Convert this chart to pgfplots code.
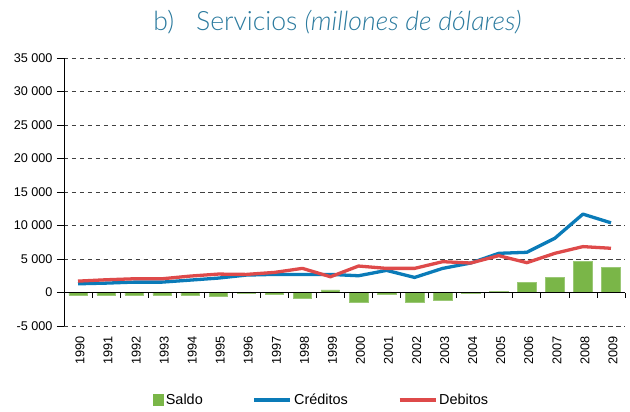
\documentclass[border=0pt]{standalone}
\usepackage{pgfplots}
\pgfplotsset{compat=1.18}
\usepackage{fontspec}
\setmainfont{Liberation Sans}
\newfontfamily\titlefont{Lato Light}
\definecolor{cgreen}{HTML}{7AB648}
\definecolor{cblue}{HTML}{0A7BB8}
\definecolor{cred}{HTML}{DE4A4A}
\definecolor{ctitle}{HTML}{2B7A9E}
\begin{document}
\begin{tikzpicture}
\useasboundingbox (-64bp,-86bp) rectangle (566bp,326bp);
\begin{axis}[
  scale only axis,
  width=561bp, height=268bp,
  at={(0,0)}, anchor=south west,
  xmin=-0.5, xmax=19.5,
  ymin=-5000, ymax=35000,
  axis x line*=bottom,
  axis y line*=left,
  x axis line style={draw=none},
  scaled y ticks=false,
  ytick={-5000,0,5000,10000,15000,20000,25000,30000,35000},
  yticklabels={-5 000,0,5 000,10 000,15 000,20 000,25 000,30 000,35 000},
  xtick={0,...,19},
  xticklabels={1990,1991,1992,1993,1994,1995,1996,1997,1998,1999,2000,2001,2002,2003,2004,2005,2006,2007,2008,2009},
  x tick style={draw=none},
  xticklabel style={rotate=90, anchor=east, font=\fontsize{12.8}{14}\selectfont, yshift=-2bp},
  ymajorgrids,
  grid style={dashed, black!75, line width=0.7pt, dash pattern=on 4.5bp off 3.5bp},
  y tick style={black, line width=0.8pt},
  tick align=outside,
  major tick length=7bp,
  y axis line style={line width=0.8pt},
  yticklabel style={font=\fontsize{12.7}{14}\selectfont, xshift=-1bp},
  clip=false,
  legend style={at={(0.459,-0.276)}, anchor=center, draw=none, legend columns=-1,
    font=\fontsize{14.5}{16}\selectfont, /tikz/every even column/.append style={column sep=48bp}},
  legend image code/.code={\draw[#1] (0bp,0bp) -- (36bp,0bp);},
]
\addplot[ybar, bar width=0.66, fill=cgreen, draw=cgreen!75!white, line width=0.5pt,
  legend image code/.code={\fill[cgreen] (-4bp,-5.5bp) rectangle (6.5bp,5.5bp);}]
 coordinates {(0,-400) (1,-400) (2,-400) (3,-400) (4,-400) (5,-600) (6,-50) (7,-300) (8,-800) (9,400)
 (10,-1500) (11,-300) (12,-1500) (13,-1100) (14,-100) (15,200) (16,1550) (17,2250) (18,4700) (19,3800)};
\addlegendentry{Saldo}
\addplot[cblue, line width=3.3pt, line join=round]
 coordinates {(0,1300) (1,1400) (2,1550) (3,1550) (4,1850) (5,2150) (6,2600) (7,2700) (8,2700) (9,2700)
 (10,2500) (11,3300) (12,2250) (13,3600) (14,4400) (15,5850) (16,6000) (17,8100) (18,11700) (19,10400)};
\addlegendentry{Créditos}
\addplot[cred, line width=3.3pt, line join=round]
 coordinates {(0,1700) (1,1900) (2,2050) (3,2050) (4,2450) (5,2750) (6,2700) (7,3000) (8,3600) (9,2350)
 (10,3950) (11,3600) (12,3600) (13,4600) (14,4400) (15,5500) (16,4450) (17,5850) (18,6850) (19,6600)};
\addlegendentry{Debitos}
\draw[black, line width=0.8pt] (axis cs:-0.5,0) -- (axis cs:19.5,0);
\pgfplotsinvokeforeach{-0.5,0.5,...,19.5}{\draw[black, line width=0.8pt] (axis cs:#1,0) -- (axis cs:#1,-750);}
\end{axis}
\node[text=ctitle, font=\titlefont\fontsize{26.7}{30}\selectfont] at (273.5bp,304bp) {b)\hspace{22bp}Servicios \textit{(millones de dólares)}};
\end{tikzpicture}
\end{document}
